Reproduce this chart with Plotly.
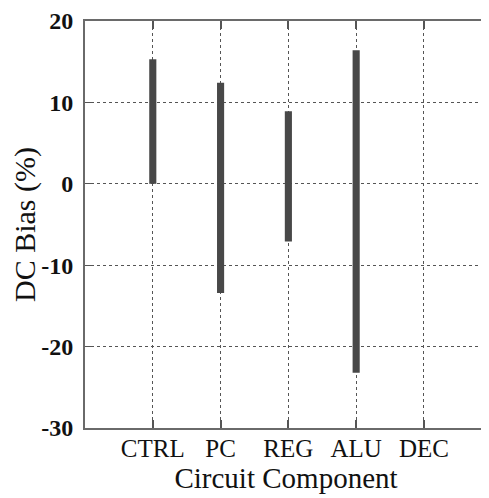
import plotly.graph_objects as go

categories = ["CTRL", "PC", "REG", "ALU", "DEC"]
bias_low = [0.0, -13.4, -7.1, -23.2, None]
bias_high = [15.3, 12.4, 8.9, 16.4, None]
y_ticks = [-30, -20, -10, 0, 10, 20]

xpos = list(range(1, len(categories) + 1))
heights = [(h - l) if (h is not None and l is not None) else None for l, h in zip(bias_low, bias_high)]

fig = go.Figure()
fig.add_trace(go.Bar(
    x=xpos, y=heights, base=bias_low, width=0.105,
    marker=dict(color="#484848", line=dict(width=0)),
    showlegend=False, hoverinfo="skip",
))

serif = "Liberation Serif, Times New Roman, serif"
# page body has an 8px margin, so the figure is sized to fit the 489x498 window
fig.update_layout(
    width=481, height=490,
    margin=dict(l=77, r=2, t=13, b=70, autoexpand=False),
    paper_bgcolor="white", plot_bgcolor="white",
    font=dict(family=serif, color="#111"),
    xaxis=dict(
        range=[0, 5.93], tickvals=xpos, ticktext=categories,
        showgrid=True, griddash="dot", gridcolor="#555", gridwidth=1,
        ticks="inside", ticklen=8, tickcolor="#555", tickwidth=1.5,
        showline=True, linecolor="#6a6a6a", linewidth=2, mirror="ticks",
        tickfont=dict(family=serif, size=25, color="#111"),
        ticklabelstandoff=-3,
        title=dict(text="Circuit Component", font=dict(family=serif, size=29, color="#111"), standoff=0),
        zeroline=False, automargin=False,
    ),
    yaxis=dict(
        range=[-30, 20], tickvals=y_ticks, ticktext=[f"<b>{v}</b>" for v in y_ticks],
        showgrid=True, griddash="dot", gridcolor="#555", gridwidth=1,
        ticks="inside", ticklen=6, tickcolor="#555",
        showline=True, linecolor="#6a6a6a", linewidth=2, mirror="ticks",
        tickfont=dict(family=serif, size=24, color="#111"),
        ticklabelstandoff=5,
        title=dict(text="DC Bias (%)", font=dict(family=serif, size=30, color="#111"), standoff=7),
        zeroline=False, automargin=False,
    ),
)
fig.write_html("out.html")
